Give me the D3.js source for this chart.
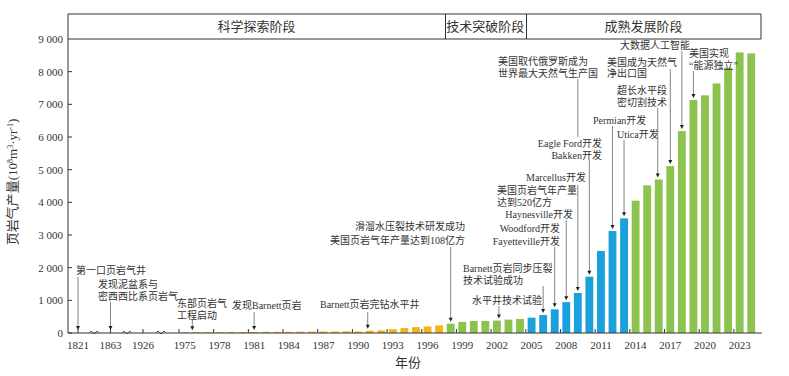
<!DOCTYPE html>
<html>
<head>
<meta charset="utf-8">
<script src="https://cdn.jsdelivr.net/npm/d3@7"></script>
<style>
  body { margin: 0; background: #fff; }
  text { font-family: "Liberation Serif", "Noto Sans CJK SC", serif; fill: #333; }
</style>
</head>
<body>
<div id="chart"></div>
<script>
// ---- data ----
var years = [1975,1976,1977,1978,1979,1980,1981,1982,1983,1984,1985,1986,1987,1988,1989,
  1990,1991,1992,1993,1994,1995,1996,1997,1998,1999,2000,2001,2002,2003,2004,
  2005,2006,2007,2008,2009,2010,2011,2012,2013,2014,2015,2016,2017,2018,2019,
  2020,2021,2022,2023,2024];
var output = [20,25,25,25,30,30,30,35,35,35,40,40,45,45,50,
  45,70,80,115,150,180,200,230,285,340,370,370,380,410,430,
  470,550,725,945,1225,1725,2510,3120,3510,4050,4520,4700,5110,6180,7130,
  7275,7640,8120,8590,8560];
var earlyYears = ["1821", "1863", "1926"];
var tickYears = [1975,1978,1981,1984,1987,1990,1993,1996,1999,2002,2005,2008,2011,2014,2017,2020,2023];
var yTicks = [0,1000,2000,3000,4000,5000,6000,7000,8000,9000];
var phaseNames = ["科学探索阶段", "技术突破阶段", "成熟发展阶段"];
var phaseStart = [null, 1998, 2005];
// colour group per bar range
var stageRanges = [[1975,1997,"yellow"],[1998,2004,"green"],[2005,2013,"blue"],[2014,2024,"green"]];

var notes = [
  {lines:["第一口页岩气井"], early:"1821"},
  {lines:["发现泥盆系与","密西西比系页岩气"], early:"1863"},
  {lines:["东部页岩气","工程启动"], year:1976},
  {lines:["发现Barnett页岩"], year:1981},
  {lines:["Barnett页岩完钻水平井"], year:1991},
  {lines:["滑溜水压裂技术研发成功","美国页岩气年产量达到108亿方"], year:1998},
  {lines:["Barnett页岩同步压裂","技术试验成功"], year:2006},
  {lines:["水平井技术试验"], year:2002},
  {lines:["Woodford开发","Fayetteville开发"], year:2007},
  {lines:["美国页岩气年产量","达到520亿方"]},
  {lines:["Haynesville开发"], year:2008},
  {lines:["Marcellus开发"]},
  {lines:["Eagle Ford开发","Bakken开发"], year:2010},
  {lines:["美国取代俄罗斯成为","世界最大天然气生产国"], year:2009},
  {lines:["Permian开发"], year:2012},
  {lines:["Utica开发"], year:2013},
  {lines:["超长水平段","密切割技术"], year:2016},
  {lines:["美国成为天然气","净出口国"], year:2017},
  {lines:["大数据人工智能"], year:2018},
  {lines:["美国实现","“能源独立”"], year:2019}
];

// ---- layout for the notes (pixels): anchor, x, first line y, line gap, arrow start(s), arrow dx ----
var noteLayout = [
  {a:"start", x:76,  y:270, lh:12, y1:277},
  {a:"start", x:98,  y:284, lh:12, y1:302},
  {a:"start", x:177, y:303, lh:12, y1:320, dx:-4},
  {a:"start", x:232, y:305, lh:12, y1:312},
  {a:"start", x:320, y:304, lh:12, y1:312, dx:-2},
  {a:"end",   x:465, y:226, lh:14, y1:247},
  {a:"start", x:463, y:268, lh:12, y1:286},
  {a:"start", x:472, y:300, lh:12, y1:306, dx:2},
  {a:"end",   x:560, y:228, lh:13, y1:247},
  {a:"start", x:497, y:190, lh:12},
  {a:"end",   x:573, y:214, lh:12, y1:220},
  {a:"end",   x:586, y:177, lh:12},
  {a:"end",   x:602, y:143, lh:12, y1:160},
  {a:"start", x:498, y:61,  lh:12, y1:79, gap:[137,185]},
  {a:"start", x:593, y:120, lh:12, y1:126},
  {a:"start", x:617, y:134, lh:12, y1:140},
  {a:"start", x:617, y:90,  lh:12, y1:108, dx:-1},
  {a:"start", x:607, y:62,  lh:11, y1:69},
  {a:"start", x:620, y:45,  lh:12, y1:51},
  {a:"start", x:689, y:53,  lh:12, y1:71}
];

var W = 789, H = 376;
var colors = {yellow:"#f5b31a", green:"#8cc34e", blue:"#1ca0dc"};

var svg = d3.select("#chart").append("svg")
  .attr("width", W).attr("height", H);

var x = d3.scaleBand().domain(years).range([179, 757])
  .paddingInner(0.32).paddingOuter(0.16);
var xe = d3.scalePoint().domain(earlyYears).range([78, 143]);
var y = d3.scaleLinear().domain([0, 9000]).range([333, 39]);

var step = x.step(), bw = x.bandwidth();
function cx(yr) { return x(yr) + bw / 2; }
function edge(yr) { return x(yr) + bw / 2 - step / 2; }
function stageOf(yr) {
  for (var i = 0; i < stageRanges.length; i++)
    if (yr >= stageRanges[i][0] && yr <= stageRanges[i][1]) return stageRanges[i][2];
}

var leftX = 68, rightX = 762, base = y(0), topY = y(9000) - 25;

// bars
svg.append("g").selectAll("rect")
  .data(years)
  .enter().append("rect")
    .attr("x", function(d) { return x(d); })
    .attr("width", bw)
    .attr("y", function(d, i) { return y(output[i]); })
    .attr("height", function(d, i) { return base - y(output[i]); })
    .attr("fill", function(d) { return colors[stageOf(d)]; });

// frame & header
var frame = svg.append("g").attr("fill", "none").attr("stroke", "#333").attr("stroke-width", 1);
frame.append("path").attr("d",
  "M" + leftX + "," + base + "V" + topY + "H" + (rightX - 1) + "V" + y(9000) + "H" + leftX);
[1, 2].forEach(function(i) {
  var px = Math.round(edge(phaseStart[i])) + 0.5;
  frame.append("line").attr("x1", px).attr("x2", px).attr("y1", topY).attr("y2", y(9000));
});
var phaseBounds = [leftX, edge(phaseStart[1]), edge(phaseStart[2]), rightX - 1];
svg.append("g").selectAll("text")
  .data(phaseNames)
  .enter().append("text")
    .attr("x", function(d, i) { return (phaseBounds[i] + phaseBounds[i + 1]) / 2; })
    .attr("y", (topY + y(9000)) / 2 + 4.5)
    .attr("text-anchor", "middle")
    .attr("font-size", "13px")
    .text(function(d) { return d; });

// y axis ticks and labels
var yAxis = svg.append("g");
yAxis.selectAll("line")
  .data(yTicks.slice(0, -1))
  .enter().append("line")
    .attr("x1", leftX).attr("x2", leftX + 4)
    .attr("y1", function(d) { return y(d); }).attr("y2", function(d) { return y(d); })
    .attr("stroke", "#333");
yAxis.selectAll("text")
  .data(yTicks)
  .enter().append("text")
    .attr("x", 63)
    .attr("y", function(d) { return y(d) + 4; })
    .attr("text-anchor", "end")
    .attr("font-size", "11px")
    .text(function(d) { return d3.format(",")(d).replace(",", " "); });

// x axis
var xAxis = svg.append("g");
xAxis.append("line")
  .attr("x1", leftX).attr("x2", rightX).attr("y1", base).attr("y2", base)
  .attr("stroke", "#333");
var tickXs = earlyYears.map(function(d) { return xe(d); })
  .concat(tickYears.map(function(d) { return edge(d); }));
xAxis.selectAll(".tk")
  .data(tickXs)
  .enter().append("line")
    .attr("x1", function(d) { return d; }).attr("x2", function(d) { return d; })
    .attr("y1", base).attr("y2", base - 4)
    .attr("stroke", "#333");
// axis breaks
var breaks = [(xe("1821") + xe("1863")) / 2, (xe("1863") + xe("1926")) / 2,
  (xe("1926") + edge(1975)) / 2];
xAxis.selectAll(".brk")
  .data(breaks)
  .enter().append("path")
    .attr("d", function(d) {
      return "M" + (d - 4.5) + "," + (base - 0.5) + " q1.5,-3 3,0 t3,0 t3,0";
    })
    .attr("fill", "none").attr("stroke", "#333").attr("stroke-width", 0.9);
xAxis.selectAll(".el")
  .data(earlyYears)
  .enter().append("text")
    .attr("x", function(d) { return xe(d); })
    .attr("y", 349)
    .attr("text-anchor", "middle").attr("font-size", "11px")
    .text(function(d) { return d; });
xAxis.selectAll(".yl")
  .data(tickYears)
  .enter().append("text")
    .attr("x", function(d) { return cx(d); })
    .attr("y", 349)
    .attr("text-anchor", "middle").attr("font-size", "11px")
    .text(function(d) { return d; });

svg.append("text")
  .attr("x", 408).attr("y", 367)
  .attr("text-anchor", "middle").attr("font-size", "13px")
  .text("年份");

var yl = svg.append("text")
  .attr("transform", "translate(17," + 182 + ") rotate(-90)")
  .attr("text-anchor", "middle").attr("font-size", "13px");
yl.append("tspan").text("页岩气产量(10");
yl.append("tspan").attr("dy", -4).attr("font-size", "8px").text("8");
yl.append("tspan").attr("dy", 4).text("m");
yl.append("tspan").attr("dy", -4).attr("font-size", "8px").text("3");
yl.append("tspan").attr("dy", 4).text("·yr");
yl.append("tspan").attr("dy", -4).attr("font-size", "8px").text("-1");
yl.append("tspan").attr("dy", 4).text(")");

// notes
var ng = svg.append("g");
notes.forEach(function(n, i) {
  var L = noteLayout[i];
  var t = ng.append("text").attr("text-anchor", L.a).attr("font-size", "10px");
  n.lines.forEach(function(s, j) {
    t.append("tspan").attr("x", L.x).attr("y", L.y + j * L.lh + 3.5).text(s);
  });
  if (L.y1 == null) return;
  var ax, ay;
  if (n.early) { ax = xe(n.early); ay = base - 3; }
  else { ax = cx(n.year) + (L.dx || 0); ay = y(output[years.indexOf(n.year)]) - 2; }
  var segs = L.gap ? [[L.y1, L.gap[0]], [L.gap[1], ay - 3]] : [[L.y1, ay - 3]];
  segs.forEach(function(s) {
    ng.append("line")
      .attr("x1", ax).attr("x2", ax).attr("y1", s[0]).attr("y2", s[1])
      .attr("stroke", "#777").attr("stroke-width", 0.9);
  });
  ng.append("path")
    .attr("d", "M" + (ax - 2) + "," + (ay - 4) + "L" + (ax + 2) + "," + (ay - 4) + "L" + ax + "," + ay + "Z")
    .attr("fill", "#222");
});
</script>
</body>
</html>
